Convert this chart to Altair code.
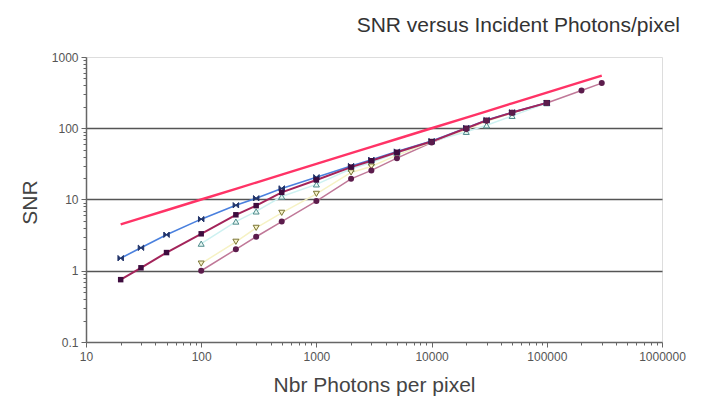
import altair as alt
import pandas as pd

# ---- data ----
photons = [20, 30, 50, 100, 200, 300, 500, 1000, 2000, 3000, 5000,
           10000, 20000, 30000, 50000, 100000, 200000, 300000]
photons_ab = [20, 30, 50, 100, 200, 300, 500, 1000, 2000, 3000, 5000,
              10000, 20000, 30000, 50000, 100000]
photons_cd = [100, 200, 300, 500, 1000, 2000, 3000, 5000,
              10000, 20000, 30000, 50000, 100000]
photons_e = [100, 200, 300, 500, 1000, 2000, 3000, 5000,
             10000, 20000, 30000, 50000, 100000, 200000, 300000]

snr_ideal = [4.47, 5.48, 7.07, 10, 14.1, 17.3, 22.4, 31.6, 44.7, 54.8, 70.7,
             100, 141, 173, 224, 316, 447, 548]
snr_a = [1.5, 2.1, 3.2, 5.3, 8.3, 10.4, 14.3, 20.5, 29.5, 36, 47,
         66, 101, 130, 167, 228]
snr_b = [0.75, 1.1, 1.8, 3.3, 6.1, 8.2, 12.6, 18.8, 28.5, 35, 46,
         65, 100, 129, 166, 227]
snr_c = [2.4, 4.9, 6.8, 11, 16.3, 27, 33, 45, 65, 89, 110, 149, 225]
snr_d = [1.26, 2.55, 4.0, 6.5, 12, 24, 29, 42, 64, 96, 125, 163, 226]
snr_e = [1.0, 2.0, 3.0, 4.9, 9.5, 19.5, 25.6, 38, 63, 98, 127, 165, 226, 338, 430]

chart_title = ["SNR versus Incident Photons/pixel"]

x_ticks = [m * 10 ** k for k in range(1, 6) for m in range(1, 10)] + [1000000]
y_ticks = [round(m * 10.0 ** k, 6) for k in range(-1, 3) for m in range(1, 10)] + [1000]

FONT = "Liberation Sans"
DECADE = "abs(log(datum.value)/LN10 - round(log(datum.value)/LN10)) < 1e-6"

xscale = alt.Scale(type="log", domain=[10, 1000000], nice=False)
yscale = alt.Scale(type="log", domain=[0.1, 1000], nice=False)

xaxis = alt.Axis(
    values=x_ticks,
    labelExpr=f"({DECADE}) ? format(datum.value, 'd') : ''",
    tickSize={"condition": {"test": DECADE, "value": 5}, "value": 3},
    grid=False, domainColor="#666", tickColor="#666", domainWidth=1.5,
    labelFlush=False, labelOverlap=False, labelFont=FONT, labelFontSize=12,
    labelColor="#555", labelPadding=4,
    title="Nbr Photons per pixel", titleFont=FONT, titleFontSize=21,
    titleFontWeight="normal", titleColor="#444", titleY=49,
    titleBaseline="alphabetic",
)
yaxis = alt.Axis(
    values=y_ticks,
    labelExpr=f"({DECADE}) ? (datum.value < 1 ? '0.1' : format(datum.value, 'd')) : ''",
    tickSize={"condition": {"test": DECADE, "value": 5}, "value": 3},
    grid=True, gridColor="#555", gridWidth=1.5,
    gridOpacity={"condition": {"test": f"({DECADE}) && datum.value > 0.5 && datum.value < 500",
                               "value": 1}, "value": 0},
    domainColor="#666", tickColor="#666", domainWidth=1.5,
    labelOverlap=False, labelFont=FONT, labelFontSize=12, labelColor="#555",
    labelPadding=3,
    title="SNR", titleFont=FONT, titleFontSize=21, titleFontWeight="normal",
    titleColor="#444", titleX=-56, titleY=145, titleBaseline="middle",
    titleAngle=-90,
)


def frame(xs, ys):
    return pd.DataFrame({"n": xs, "snr": ys})


def base(df):
    return alt.Chart(df).encode(
        x=alt.X("n:Q", scale=xscale, axis=xaxis),
        y=alt.Y("snr:Q", scale=yscale, axis=yaxis),
    )


BOWTIE = "M-1,-1L1,1L1,-1L-1,1Z"

df_ideal = frame(photons, snr_ideal)
df_a = frame(photons_ab, snr_a)
df_b = frame(photons_ab, snr_b)
df_c = frame(photons_cd, snr_c)
df_d = frame(photons_cd, snr_d)
df_e = frame(photons_e, snr_e)

title_layer = alt.Chart(pd.DataFrame({"t": chart_title})).mark_text(
    font=FONT, fontSize=21, color="#333", align="right", baseline="alphabetic",
).encode(text="t:N", x=alt.value(594), y=alt.value(-25))

layers = [
    base(df_e).mark_line(color="#c07898", strokeWidth=1.5),
    base(df_d).mark_line(color="#f6f2c4", strokeWidth=1.5),
    base(df_c).mark_line(color="#cdf1f1", strokeWidth=1.5),
    base(df_a).mark_line(color="#4a80de", strokeWidth=1.6),
    base(df_b).mark_line(color="#a3245a", strokeWidth=2),
    base(df_ideal).mark_line(color="#ff3366", strokeWidth=2.4),
    base(df_c).mark_point(shape="triangle-up", filled=True, fill="#e6f6f2",
                          stroke="#4f8c8c", strokeWidth=1, size=36, opacity=1),
    base(df_d).mark_point(shape="triangle-down", filled=True, fill="#f6f2c8",
                          stroke="#7a7434", strokeWidth=1, size=36, opacity=1),
    base(df_a).mark_point(shape=BOWTIE, filled=True, fill="#22346a",
                          stroke="#22346a", strokeWidth=1, size=30, opacity=1),
    base(df_b).mark_point(shape="square", filled=True, fill="#3e0c3e",
                          size=30, opacity=1),
    base(df_e).mark_point(shape="circle", filled=True, fill="#5c1c4c",
                          size=36, opacity=1),
    title_layer,
]

chart = alt.layer(*layers).properties(
    width=576,
    height=285,
    padding={"left": 78, "top": 49, "right": 34, "bottom": 58},
    autosize=alt.AutoSizeParams(type="none"),
).configure_view(fill="#d9d9d9", stroke=None).configure(background="white")

chart.save("out.html", embed_options={"renderer": "svg", "actions": False})
